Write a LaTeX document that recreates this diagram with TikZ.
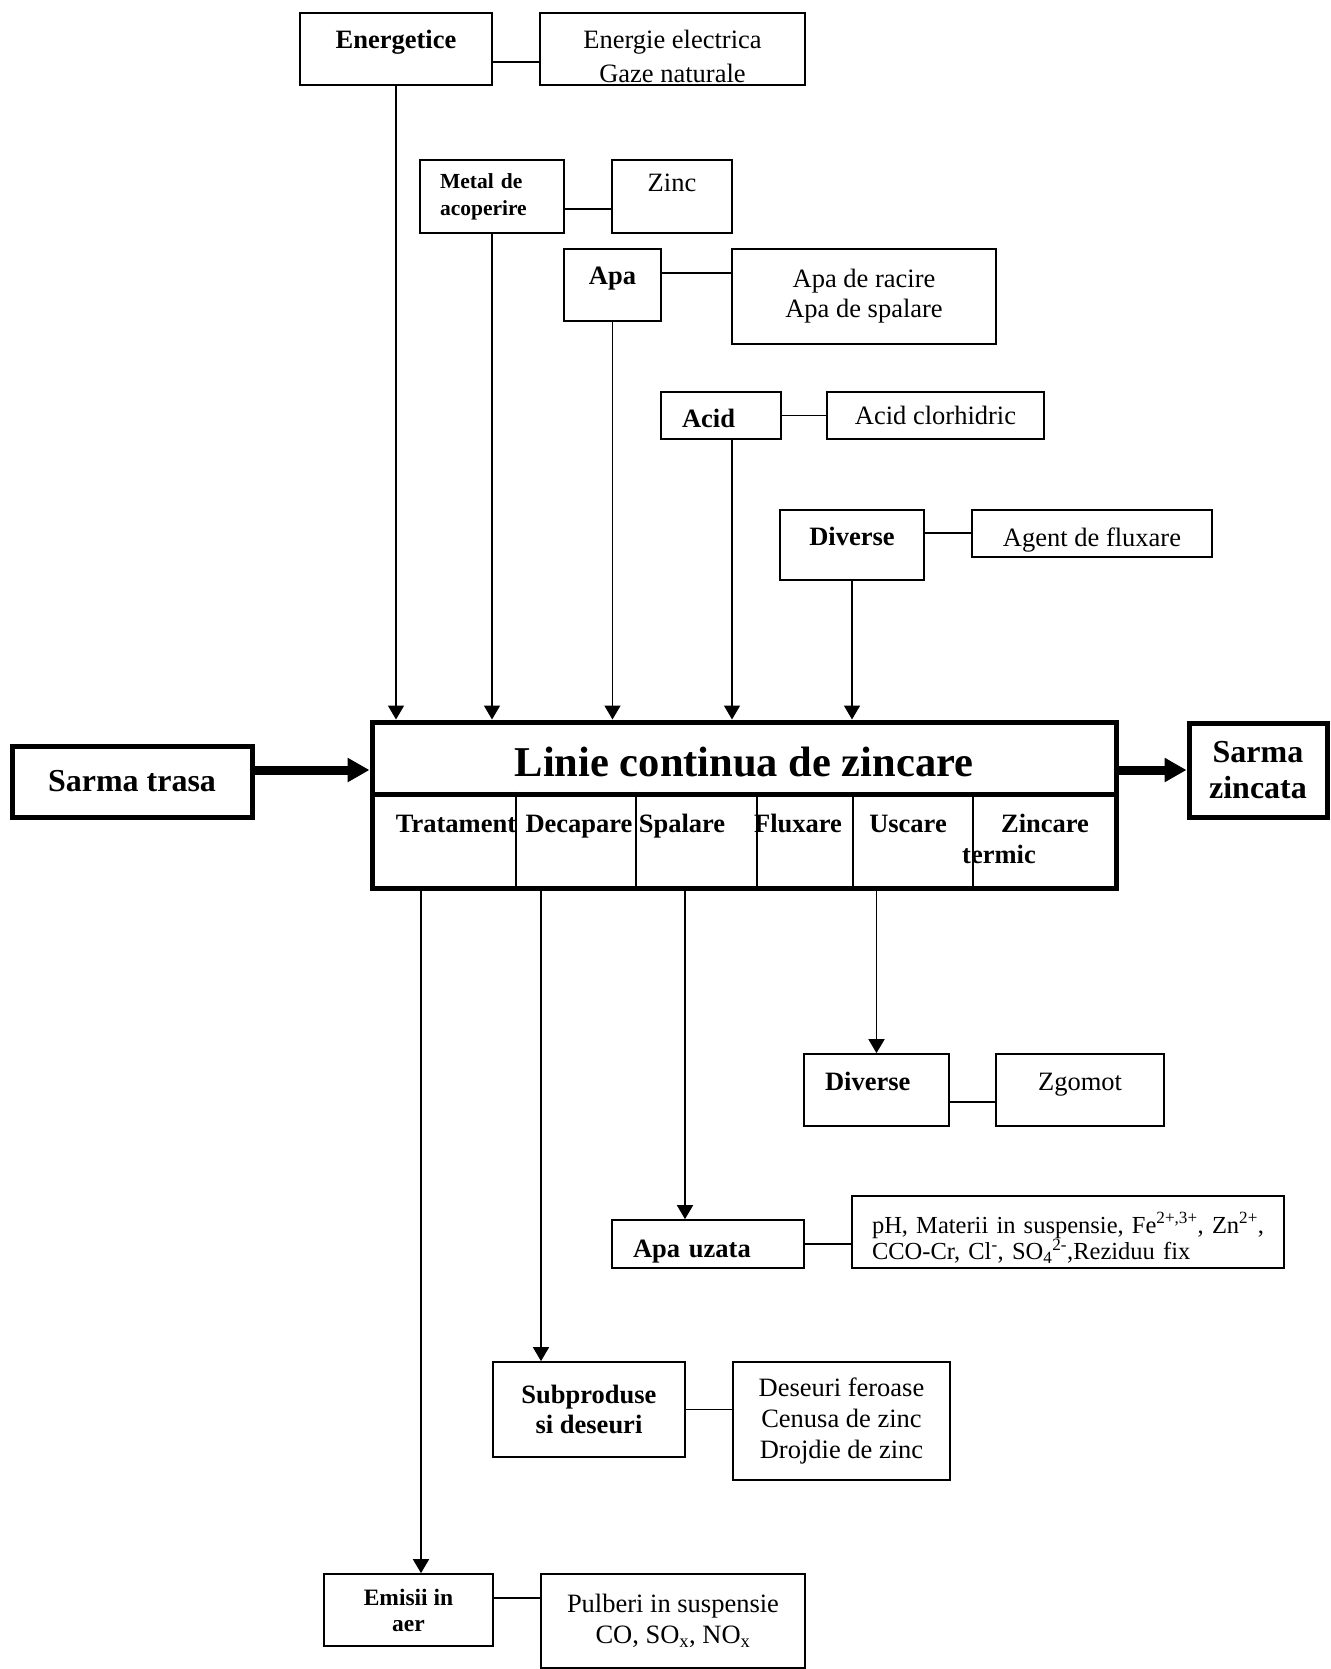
\documentclass[tikz,border=0pt]{standalone}
\usepackage{fontspec}
\setmainfont{Liberation Serif}
\usetikzlibrary{arrows.meta, positioning}

\begin{document}
\begin{tikzpicture}[
  x=1pt, y=-1pt,
  box/.style={draw, line width=1.7pt, align=center, inner sep=0pt, font=\fontsize{26.5}{30.5}\selectfont},
  head/.style={box, font=\bfseries\fontsize{26.5}{30.5}\selectfont},
  heavy/.style={draw, line width=5pt, align=center, inner sep=0pt, font=\bfseries\fontsize{32}{36}\selectfont},
  toptext/.style={text height=18pt, text depth=18pt},
  stage/.style={anchor=base, inner sep=0pt, font=\bfseries\fontsize{26.5}{30.5}\selectfont},
  link/.style={line width=1.7pt},
  arrow/.style={-{Triangle[length=14pt, width=16pt]}, line width=1.7pt},
  feed/.style={-{Triangle[length=22pt, width=23pt]}, line width=9pt}
]
\useasboundingbox (0,0) rectangle (1330,1669);

% intrari
\node[head, toptext, minimum width=192pt, minimum height=72pt] (energetice) at (396,49) {Energetice};
\node[box, minimum width=265pt, minimum height=72pt, text height=67pt, text depth=0pt, font=\fontsize{26.5}{33.5}\selectfont] (energie) at (672.5,49) {Energie electrica\\Gaze naturale};
\node[head, minimum width=144pt, minimum height=73pt, align=left, text width=104pt, inner xsep=20pt, font=\bfseries\fontsize{21.5}{27}\selectfont] (metal) at (492,196.5) {Metal de\\acoperire};
\node[box, text height=18pt, text depth=28pt, minimum width=120pt, minimum height=73pt] (zinc) at (672,196.5) {Zinc};
\node[head, toptext, minimum width=97pt, minimum height=72pt] (apa) at (612.5,285) {Apa};
\node[box, minimum width=264pt, minimum height=95pt, font=\fontsize{26.5}{30}\selectfont] (apaconsum) at (864,296.5) {Apa de racire\\Apa de spalare};
\node[head, minimum width=120pt, minimum height=47pt, align=left, text width=78pt, inner xsep=21pt, text height=23pt, text depth=0pt] (acid) at (721,415.5) {Acid};
\node[box, minimum width=217pt, minimum height=47pt] (clorhidric) at (935.5,415.5) {Acid clorhidric};
\node[head, toptext, minimum width=144pt, minimum height=70pt] (diverse) at (852,545) {Diverse};
\node[box, minimum width=240pt, minimum height=47pt, text height=25pt, text depth=0pt] (fluxant) at (1092,533.5) {Agent de fluxare};

% linia de zincare
\node[heavy, minimum width=744pt, minimum height=72pt, text height=36pt, text depth=0pt, font=\bfseries\fontsize{42.5}{46}\selectfont] (titlu) at (744,758) {Linie continua de zincare};
\node[heavy, minimum width=744pt, minimum height=94pt] (etape) at (744,841) {};
\node[heavy, minimum width=240pt, minimum height=71pt] (trasa) at (132,781.5) {Sarma trasa};
\node[heavy, minimum width=138pt, minimum height=94pt] (zincata) at (1258,770) {Sarma\\zincata};

\node[stage] (tratament) at (456,832) {Tratament};
\node[stage] (decapare) at (579,832) {Decapare};
\node[stage] (spalare) at (682,832) {Spalare};
\node[stage] (fluxare) at (798,832) {Fluxare};
\node[stage] (uscare) at (908,832) {Uscare};
\node[stage] (zincare) at (1045,832) {Zincare};
\node[stage] (termic) at (999,863) {termic};

\draw[link] (516,0 |- etape.north) -- (516,0 |- etape.south);
\draw[link] (636,0 |- etape.north) -- (636,0 |- etape.south);
\draw[link] (757,0 |- etape.north) -- (757,0 |- etape.south);
\draw[link] (853,0 |- etape.north) -- (853,0 |- etape.south);
\draw[link] (973,0 |- etape.north) -- (973,0 |- etape.south);

% iesiri
\node[head, toptext, minimum width=145pt, minimum height=72pt, align=left, text width=103pt, inner xsep=21pt] (diverse2) at (876.5,1090) {Diverse};
\node[box, toptext, minimum width=168pt, minimum height=72pt] (zgomot) at (1080,1090) {Zgomot};
\node[head, minimum width=192pt, minimum height=48pt, align=left, text width=150pt, inner xsep=21pt, text height=26pt, text depth=0pt] (apauzata) at (708,1244) {Apa uzata};
\node[box, minimum width=432pt, minimum height=72pt, text width=392pt, inner xsep=20pt, align=left, text height=16pt, text depth=14pt, font=\fontsize{24.5}{21}\selectfont] (poluanti) at (1068,1232) {\mbox{pH, Materii in suspensie, Fe\textsuperscript{2+,3+}, Zn\textsuperscript{2+},}\\\mbox{CCO-Cr, Cl\textsuperscript{-}, SO\textsubscript{4}\textsuperscript{2-},Reziduu fix}};
\node[head, minimum width=192pt, minimum height=95pt] (subproduse) at (589,1409.5) {Subproduse\\si deseuri};
\node[box, minimum width=217pt, minimum height=118pt, font=\fontsize{26.5}{31}\selectfont] (deseuri) at (841.5,1421) {Deseuri feroase\\Cenusa de zinc\\Drojdie de zinc};
\node[head, minimum width=169pt, minimum height=72pt, font=\bfseries\fontsize{23.5}{26}\selectfont] (emisii) at (408.5,1610) {Emisii in\\aer};
\node[box, minimum width=264pt, minimum height=94pt, font=\fontsize{26.5}{31}\selectfont] (pulberi) at (673,1621) {Pulberi in suspensie\\CO, SO\textsubscript{x}, NO\textsubscript{x}};

% legaturi
\draw[link] ([yshift=-13pt]energetice.east) -- ([yshift=-13pt]energetice.east -| energie.west);
\draw[link] ([yshift=-12.5pt]metal.east) -- ([yshift=-12.5pt]metal.east -| zinc.west);
\draw[link] ([yshift=12pt]apa.east) -- ([yshift=12pt]apa.east -| apaconsum.west);
\draw[link] (acid) -- (clorhidric);
\draw[link] ([yshift=12pt]diverse.east) -- ([yshift=12pt]diverse.east -| fluxant.west);
\draw[link] ([yshift=-12pt]diverse2.east) -- ([yshift=-12pt]diverse2.east -| zgomot.west);
\draw[link] (apauzata.east) -- (apauzata.east -| poluanti.west);
\draw[link] (subproduse.east) -- (subproduse.east -| deseuri.west);
\draw[link] ([yshift=12pt]emisii.east) -- ([yshift=12pt]emisii.east -| pulberi.west);

\draw[arrow] (energetice.south) -- (energetice.south |- titlu.north);
\draw[arrow] (metal.south) -- (metal.south |- titlu.north);
\draw[arrow] (apa.south) -- (apa.south |- titlu.north);
\draw[arrow] ([xshift=11pt]acid.south) -- ([xshift=11pt]acid.south |- titlu.north);
\draw[arrow] (diverse.south) -- (diverse.south |- titlu.north);

\draw[arrow] ([xshift=12.5pt]emisii.north |- etape.south) -- ([xshift=12.5pt]emisii.north);
\draw[arrow] ([xshift=-48pt]subproduse.north |- etape.south) -- ([xshift=-48pt]subproduse.north);
\draw[arrow] ([xshift=-23pt]apauzata.north |- etape.south) -- ([xshift=-23pt]apauzata.north);
\draw[arrow] (diverse2.north |- etape.south) -- (diverse2.north);

\draw[feed] ([yshift=11.5pt]trasa.east) -- ([yshift=11.5pt]trasa.east -| titlu.west);
\draw[feed] (titlu.east |- zincata.west) -- (zincata.west);

\end{tikzpicture}
\end{document}
